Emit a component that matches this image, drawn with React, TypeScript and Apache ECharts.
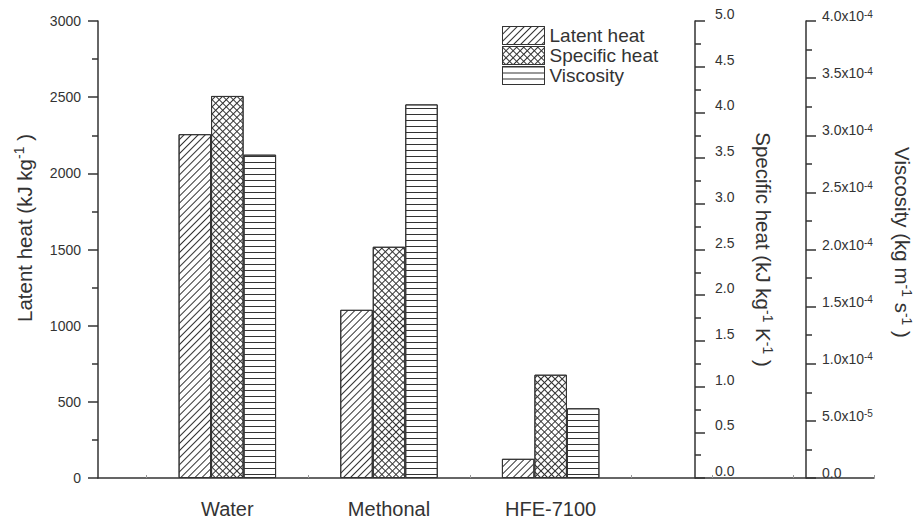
import React, { useEffect, useRef } from 'react';
import * as echarts from 'echarts';

// Fluids compared, in the order they appear along the x axis
const fluids = ['Water', 'Methonal', 'HFE-7100'];
// Latent heat of vaporisation, kJ kg^-1
const latentHeat = [2257, 1104, 126];
// Specific heat, kJ kg^-1 K^-1
const specificHeat = [4.18, 2.53, 1.13];
// Dynamic viscosity, kg m^-1 s^-1
const viscosity = [2.83e-4, 3.27e-4, 6.1e-5];

// Axis ranges
const latentRange = { min: 0, max: 3000, interval: 500 };
const specificRange = { min: 0, max: 5, interval: 0.5 };
const viscosityRange = { min: 0, max: 4e-4, interval: 0.5e-4 };

const INK = '#333';
const FONT = '"Liberation Sans", Arial, Helvetica, sans-serif';

const sciLabel = (v: number) => {
  if (Math.abs(v) < 1e-12) return '{m|0.0}{z| }';
  const exp = Math.floor(Math.log10(v) + 1e-9);
  const mant = v / Math.pow(10, exp);
  return `{m|${mant.toFixed(1)}x10}{e|${exp}}{z| }`;
};

const titleRich = {
  t: { fontSize: 20.5, lineHeight: 24, color: INK, fontFamily: FONT },
  s: { fontSize: 14, lineHeight: 14, color: INK, fontFamily: FONT, verticalAlign: 'top' },
  padL: { width: 43 },
  padV: { width: 14 },
};

const hatchDiagonal = {
  symbol: 'rect',
  symbolSize: 1,
  color: INK,
  dashArrayX: [1, 0],
  dashArrayY: [1, 4],
  rotation: -Math.PI / 4,
};
const hatchCross = {
  symbol: 'rect',
  symbolSize: 1,
  color: INK,
  dashArrayX: [
    [1, 0],
    [1, 4],
  ],
  dashArrayY: [1, 0, 4, 0],
  rotation: Math.PI / 4,
};
const hatchHorizontal = {
  symbol: 'rect',
  symbolSize: 1,
  color: INK,
  dashArrayX: [1, 0],
  dashArrayY: [1, 5],
  rotation: 0,
};

const toPoints = (vals: number[]) => vals.map((v, i) => [i + 1, v]);

const barBase = (name: string, vals: number[], yAxisIndex: number, decal: any) => ({
  name,
  type: 'bar',
  xAxisIndex: 0,
  yAxisIndex,
  barWidth: 32.5,
  barGap: '0%',
  data: toPoints(vals),
  itemStyle: { color: '#fff', borderColor: INK, borderWidth: 1, decal },
  emphasis: { disabled: true },
});

export default function App() {
  const ref = useRef<HTMLDivElement>(null);

  useEffect(() => {
    if (!ref.current) return;
    const chart = echarts.init(ref.current, undefined, { renderer: 'svg' });

    const axisLine = { show: true, lineStyle: { color: INK, width: 1.5 } };
    const majorTick = { show: true, length: 10, lineStyle: { color: INK, width: 1.5 } };
    const minorTick = { show: true, splitNumber: 2, length: 6, lineStyle: { color: INK, width: 1.5 } };

    chart.setOption({
      animation: false,
      textStyle: { fontFamily: FONT },
      grid: [
        { left: 98, right: 40, top: 21, bottom: 46, outerBoundsMode: 'none', containLabel: false },
        { left: 146.5, right: 40, top: 21, bottom: 46, outerBoundsMode: 'none', containLabel: false },
      ],
      legend: {
        orient: 'vertical',
        left: 502,
        top: 26,
        padding: 0,
        itemWidth: 42,
        itemHeight: 18,
        itemGap: 1,
        icon: 'rect',
        selectedMode: false,
        itemStyle: { borderColor: INK, borderWidth: 1 },
        textStyle: { fontSize: 19, lineHeight: 18, color: INK, fontFamily: FONT },
        data: ['Latent heat', 'Specific heat', 'Viscosity'],
      },
      xAxis: [
        {
          type: 'value',
          gridIndex: 0,
          min: 0.2,
          max: 5.0,
          axisLine,
          axisTick: { show: false },
          axisLabel: { show: false },
          splitLine: { show: false },
        },
        {
          type: 'value',
          gridIndex: 1,
          min: 0.5,
          max: 5.0,
          interval: 0.5,
          axisLine: { show: false },
          axisTick: { show: true, inside: true, length: 3, lineStyle: { color: '#999', width: 1 } },
          axisLabel: {
            margin: 21,
            fontSize: 20,
            color: INK,
            fontFamily: FONT,
            formatter: (v: number) => {
              const idx = Math.round(v) - 1;
              return Math.abs(v - Math.round(v)) < 1e-6 && fluids[idx] ? fluids[idx] : '';
            },
          },
          splitLine: { show: false },
        },
      ],
      yAxis: [
        {
          type: 'value',
          gridIndex: 0,
          position: 'left',
          ...latentRange,
          axisLine,
          axisTick: majorTick,
          minorTick,
          axisLabel: {
            margin: 17,
            fontSize: 14,
            color: INK,
            fontFamily: FONT,
            formatter: (v: number) => String(v),
          },
          splitLine: { show: false },
          name: '{padL|}{t|Latent heat (kJ kg}{s|-1}{t| )}',
          nameLocation: 'middle',
          nameGap: 62,
          nameRotate: 90,
          nameTextStyle: { rich: titleRich },
        },
        {
          type: 'value',
          gridIndex: 0,
          position: 'right',
          offset: -179,
          ...specificRange,
          axisLine,
          axisTick: majorTick,
          minorTick,
          axisLabel: {
            margin: 20,
            fontSize: 14,
            lineHeight: 14,
            verticalAlign: 'bottom',
            color: INK,
            fontFamily: FONT,
            formatter: (v: number) => v.toFixed(1),
          },
          splitLine: { show: false },
          name: '{t|Specific heat (kJ kg}{s|-1}{t| K}{s|-1}{t| )}',
          nameLocation: 'middle',
          nameGap: 56,
          nameRotate: -90,
          nameTextStyle: { rich: titleRich },
        },
        {
          type: 'value',
          gridIndex: 0,
          position: 'right',
          offset: -68,
          ...viscosityRange,
          axisLine,
          axisTick: majorTick,
          minorTick,
          axisLabel: {
            margin: 16,
            formatter: sciLabel,
            rich: {
              m: { fontSize: 14, lineHeight: 16, color: INK, fontFamily: FONT, verticalAlign: 'top' },
              e: { fontSize: 10, lineHeight: 10, color: INK, fontFamily: FONT, verticalAlign: 'top' },
              z: { fontSize: 1, lineHeight: 24, width: 1 },
            },
          },
          splitLine: { show: false },
          name: '{t|Viscosity (kg m}{s|-1}{t| s}{s|-1}{t| )}{padV|}',
          nameLocation: 'middle',
          nameGap: 84,
          nameRotate: -90,
          nameTextStyle: { rich: titleRich },
        },
        {
          // companion axis so the tick-only x axis has a cartesian to live in
          type: 'value',
          gridIndex: 1,
          min: 0,
          max: 1,
          show: false,
        },
      ],
      series: [
        barBase('Latent heat', latentHeat, 0, hatchDiagonal),
        barBase('Specific heat', specificHeat, 1, hatchCross),
        barBase('Viscosity', viscosity, 2, hatchHorizontal),
      ],
    });

    return () => chart.dispose();
  }, []);

  return (
    <div
      ref={ref}
      style={{ position: 'fixed', left: 0, top: 0, width: 914, height: 524, background: '#fff' }}
    />
  );
}
